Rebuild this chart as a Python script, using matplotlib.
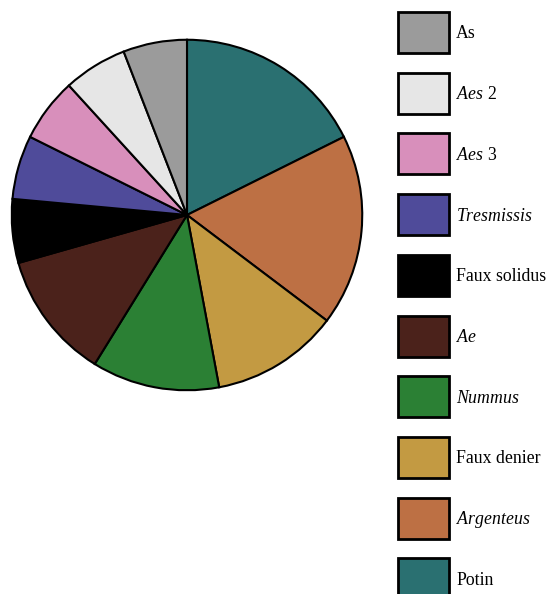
import matplotlib
matplotlib.use('Agg')
import matplotlib.pyplot as plt
from matplotlib.patches import Rectangle

plt.rcParams['font.family'] = 'Liberation Serif'
plt.rcParams['mathtext.fontset'] = 'custom'
plt.rcParams['mathtext.rm'] = 'Liberation Serif'
plt.rcParams['mathtext.it'] = 'Liberation Serif:italic'

# slices, clockwise from the top
labels = ['Potin', r'$\mathit{Argenteus}$', 'Faux denier', r'$\mathit{Nummus}$', r'$\mathit{Ae}$',
          'Faux solidus', r'$\mathit{Tresmissis}$', r'$\mathit{Aes}$ 3', r'$\mathit{Aes}$ 2', 'As']
counts = [3, 3, 2, 2, 2, 1, 1, 1, 1, 1]
colors = ['#2a7071', '#bd7044', '#c39a42', '#2b8034', '#4b221b',
          '#000000', '#4f4b9a', '#d88fbb', '#e6e6e6', '#9b9b9b']

W, H = 549, 594
fig = plt.figure(figsize=(W / 100, H / 100), dpi=100)

# pie
ax = fig.add_axes([10 / W, (H - 392) / H, 354 / W, 354 / H])
ax.pie(counts, colors=colors, startangle=90, counterclock=False, radius=1,
       wedgeprops=dict(edgecolor='black', linewidth=1.5))
ax.set_xlim(-1.01, 1.01)
ax.set_ylim(-1.01, 1.01)
ax.set_aspect('equal')
ax.axis('off')

# legend, drawn in pixel coords, top-down order is reversed
lax = fig.add_axes([0, 0, 1, 1])
lax.set_xlim(0, W)
lax.set_ylim(H, 0)
lax.axis('off')
for i, (lab, col) in enumerate(zip(labels[::-1], colors[::-1])):
    top = 12 + i * 60.7
    lax.add_patch(Rectangle((398, top), 51, 41, facecolor=col, edgecolor='black', linewidth=2))
    lax.text(456, top + 22, lab, fontsize=12.8, va='center', ha='left')

fig.savefig('out.png', dpi=100)
